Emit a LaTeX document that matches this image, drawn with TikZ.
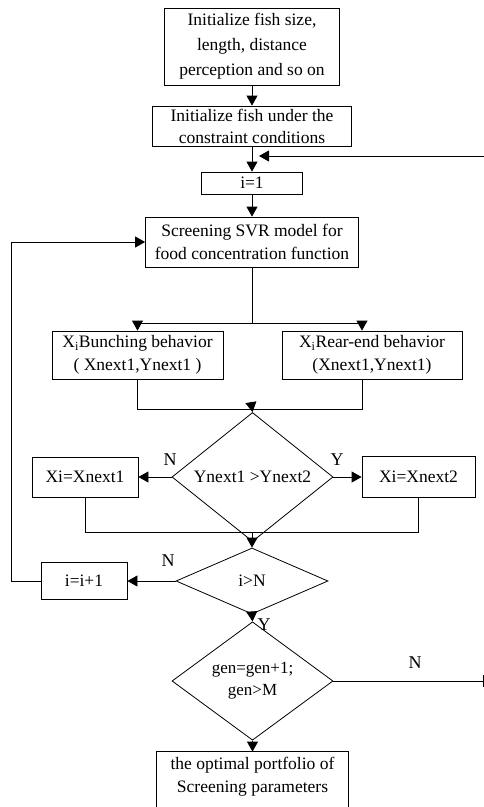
\documentclass[tikz,border=0pt]{standalone}
\usepackage{fontspec}
\setmainfont{Liberation Serif}
\usetikzlibrary{shapes.geometric,arrows.meta}
\begin{document}
\begin{tikzpicture}[x=1pt,y=-1pt,
  txt/.style={font=\fontsize{17.5}{23}\selectfont},
  box/.style={draw, line width=0.8pt, inner sep=0pt, align=center, txt},
  dia/.style={draw, diamond, line width=0.8pt, inner sep=0pt, align=center, txt},
  arr/.style={-{Triangle[length=10pt,width=11pt]}, line width=0.8pt},
  ln/.style={line width=0.8pt},
  lab/.style={font=\fontsize{18}{18}\selectfont, inner sep=0pt}]
\clip (0,0) rectangle (484,807);
% nodes
\node[box, minimum width=175pt, minimum height=77pt, font=\fontsize{17.5}{25}\selectfont] (b1) at (252,46.5) {Initialize fish size,\\length, distance\\perception and so on};
\node[box, minimum width=199pt, minimum height=40pt, font=\fontsize{17.5}{22}\selectfont] (b2) at (252,126) {Initialize fish under the\\constraint conditions};
\node[box, minimum width=101pt, minimum height=22pt] (i1) at (252,183) {i=1};
\node[box, minimum width=213pt, minimum height=50pt] (svr) at (252,242) {Screening SVR model for\\food concentration function};
\node[box, minimum width=171pt, minimum height=48pt] (bunch) at (137.5,355) {X\textsubscript{i}Bunching behavior\\( Xnext1,Ynext1 )};
\node[box, minimum width=180pt, minimum height=48pt] (rear) at (372,355) {X\textsubscript{i}Rear-end behavior\\(Xnext1,Ynext1)};
\node[dia, minimum width=161pt, minimum height=86pt] (d1) at (252.5,477) {Ynext1 >Ynext2};
\node[box, minimum width=106pt, minimum height=40pt] (xn1) at (85,477) {Xi=Xnext1};
\node[box, minimum width=113pt, minimum height=41pt] (xn2) at (418.5,477) {Xi=Xnext2};
\node[dia, minimum width=152pt, minimum height=66pt] (d2) at (252,581) {i>N};
\node[box, minimum width=86pt, minimum height=37pt] (ii) at (84,581) {i=i+1};
\node[dia, minimum width=161pt, minimum height=84pt, font=\fontsize{17}{22}\selectfont] (d3) at (252.5,681) {gen=gen+1;\\gen>M};
\node[box, draw=none, minimum width=191pt, minimum height=50pt] (fin) at (252.5,777) {the optimal portfolio of\\Screening parameters};
\draw[ln] ([yshift=-20pt]fin.south west) -- (fin.north west) -- (fin.north east) -- ([yshift=-20pt]fin.south east);
% helper coordinates
\coordinate (rx) at (362,0);
\coordinate (m1) at (252,409);
\coordinate (m2) at (252,532);
\coordinate (fbs) at (484,156);
\coordinate (fbe) at (259,156);
\coordinate (nend) at (483,681);
% connectors
\draw[arr] (b1.south) -- (b2.north);
\draw[arr] (b2.south) -- (i1.north);
\draw[arr] (fbs) -- (fbe);
\draw[arr] (i1.south) -- (svr.north);
\draw[arr] (svr.south) -- ++(0,56) -| (bunch.north);
\draw[arr] (svr.south) -- ++(0,56) -| (rx |- rear.north);
\draw[ln] (bunch.south) -- (bunch.south |- m1) -- (rx |- m1) -- (rx |- rear.south);
\draw[arr] (m1) -- (d1.north);
\draw[arr] (d1.west) -- (xn1.east);
\draw[arr] (d1.east) -- (xn2.east -| xn2.west);
\draw[ln] (xn1.south) -- (xn1.south |- m2) -- (xn2.south |- m2) -- (xn2.south);
\draw[arr] (m2) -- (d2.north);
\draw[arr] (d2.west) -- (ii.east);
\draw[arr] (ii.west) -- ++(-29,0) |- (svr.west);
\draw[arr] (d2.south) -- (d3.north);
\draw[arr] (d3.south) -- (fin.north);
\draw[ln] (d3.east) -- (nend);
\draw[ln] ([yshift=6pt]nend) -- ([yshift=-6pt]nend);
% labels
\node[lab] (ln1) at (170,460) {N};
\node[lab] (ly1) at (337,460) {Y};
\node[lab] (ln2) at (168,561) {N};
\node[lab] (ly2) at (264,625) {Y};
\node[lab] (ln3) at (415,663) {N};
\end{tikzpicture}
\end{document}
